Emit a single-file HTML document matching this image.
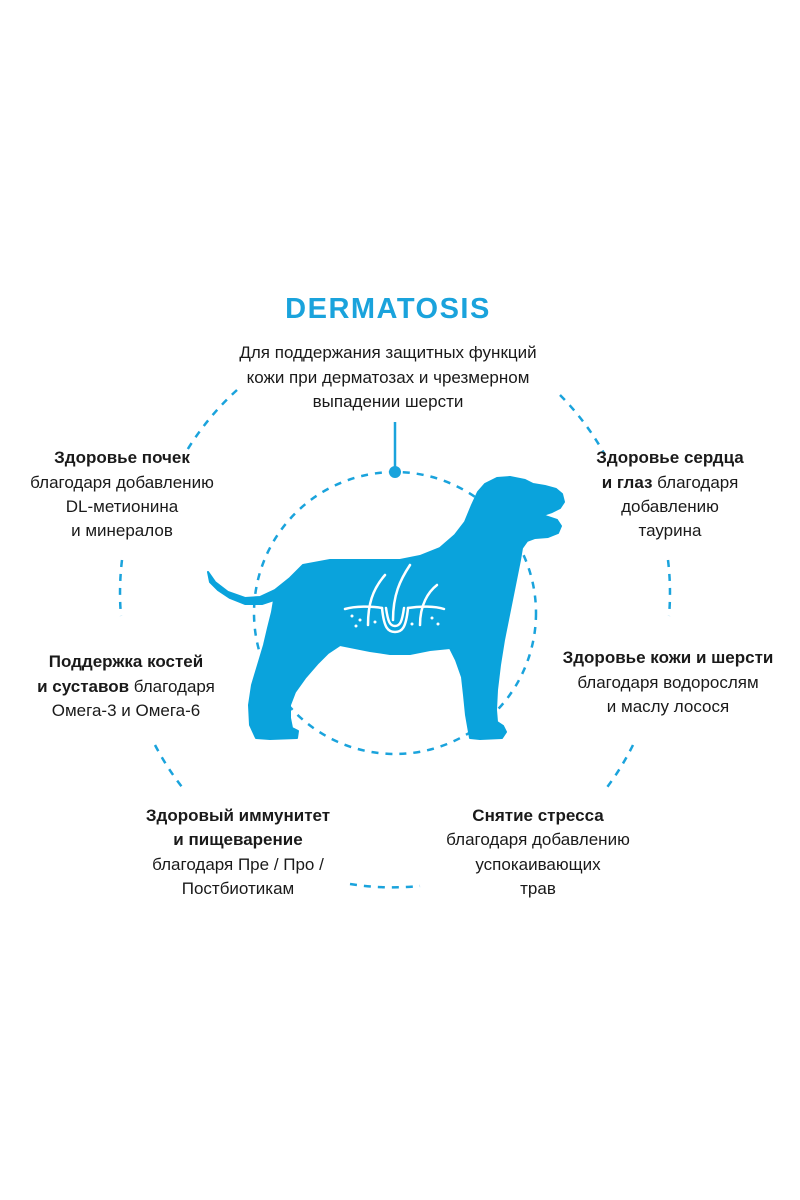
<!DOCTYPE html>
<html><head><meta charset="utf-8"><style>
html,body{margin:0;padding:0;background:#fff;}
svg{display:block}
text{font-family:"Liberation Sans",sans-serif;font-size:17px;fill:#1a1a1a;text-anchor:middle}
.b{font-weight:bold}
</style></head><body>
<svg width="800" height="1200" viewBox="0 0 800 1200" xmlns="http://www.w3.org/2000/svg">
<g fill="none" stroke="#1aa3dc" stroke-width="2.5" stroke-dasharray="7 7">
<circle cx="395" cy="613" r="141"/>
<path d="M237 390 A274 274 0 0 0 186 452"/>
<path d="M560 395 A274 274 0 0 1 605 455"/>
<path d="M122 560 A274 274 0 0 0 121 616"/>
<path d="M668 560 A274 274 0 0 1 669 616"/>
<path d="M155 745 A274 274 0 0 0 182 787"/>
<path d="M633 745 A274 274 0 0 1 605 790"/>
<path d="M350 884 A274 274 0 0 0 420 886"/>
</g>
<line x1="395" y1="422" x2="395" y2="472" stroke="#1aa3dc" stroke-width="2.5"/>
<circle cx="395" cy="472" r="6" fill="#1aa3dc"/>
<polygon fill="#0aa3dc" stroke="#0aa3dc" stroke-width="2" stroke-linejoin="round" points="208,572 215,582 228,592 245,598 260,597 275,590 290,578 303,565 330,560 370,560 400,560 420,556 440,548 455,535 465,522 472,505 478,492 485,484 497,478 510,477 525,480 533,484 545,486 556,489 562,494 564,502 560,508 552,512 543,515 548,517 557,520 561,526 558,533 548,537 535,538 527,541 522,548 520,560 516,580 512,600 508,620 504,640 500,665 497,690 496,710 497,722 503,726 506,732 502,738 480,739 470,738 466,715 464,695 462,677 456,660 450,648 430,650 410,654 390,654 370,651 350,647 340,645 328,653 318,663 305,678 295,692 290,705 290,718 292,728 298,731 297,738 270,739 256,738 250,725 249,705 252,685 258,665 264,645 268,628 272,612 274,600 262,604 245,604 230,598 218,590 210,582"/>
<g fill="none" stroke="#fff" stroke-width="2.5" stroke-linecap="round">
<path d="M345 609 C355 606 372 606 382 608"/>
<path d="M408 608 C420 606 435 606 444 609"/>
<path d="M382 608 C384 628 388 632 395 632 C402 632 406 628 408 608"/>
<path d="M386 608 C388 622 390 626 395 626 C400 626 402 622 404 608"/>
<path d="M368 625 C368 605 372 590 385 575"/>
<path d="M393 620 C393 595 400 580 410 565"/>
<path d="M420 625 C420 605 428 592 437 585"/>
</g>
<g fill="#fff"><circle cx="352" cy="616" r="1.5"/><circle cx="360" cy="620" r="1.5"/><circle cx="375" cy="622" r="1.5"/><circle cx="412" cy="624" r="1.5"/><circle cx="432" cy="618" r="1.5"/><circle cx="438" cy="624" r="1.5"/><circle cx="356" cy="626" r="1.5"/></g>
<text x="388" y="318" class="b" style="font-size:29px;fill:#1aa3dc;letter-spacing:1.5px">DERMATOSIS</text>
<text x="388" y="358">Для поддержания защитных функций</text>
<text x="388" y="383">кожи при дерматозах и чрезмерном</text>
<text x="388" y="407">выпадении шерсти</text>
<text x="122" y="463" class="b">Здоровье почек</text>
<text x="122" y="488">благодаря добавлению</text>
<text x="122" y="512">DL-метионина</text>
<text x="122" y="536">и минералов</text>
<text x="670" y="463" class="b">Здоровье сердца</text>
<text x="670" y="488"><tspan class="b">и глаз</tspan> благодаря</text>
<text x="670" y="512">добавлению</text>
<text x="670" y="536">таурина</text>
<text x="126" y="667" class="b">Поддержка костей</text>
<text x="126" y="692"><tspan class="b">и суставов</tspan> благодаря</text>
<text x="126" y="716">Омега-3 и Омега-6</text>
<text x="668" y="663" class="b">Здоровье кожи и шерсти</text>
<text x="668" y="688">благодаря водорослям</text>
<text x="668" y="712">и маслу лосося</text>
<text x="238" y="821" class="b">Здоровый иммунитет</text>
<text x="238" y="845" class="b">и пищеварение</text>
<text x="238" y="870">благодаря Пре / Про /</text>
<text x="238" y="894">Постбиотикам</text>
<text x="538" y="821" class="b">Снятие стресса</text>
<text x="538" y="845">благодаря добавлению</text>
<text x="538" y="870">успокаивающих</text>
<text x="538" y="894">трав</text>
</svg>
</body></html>
